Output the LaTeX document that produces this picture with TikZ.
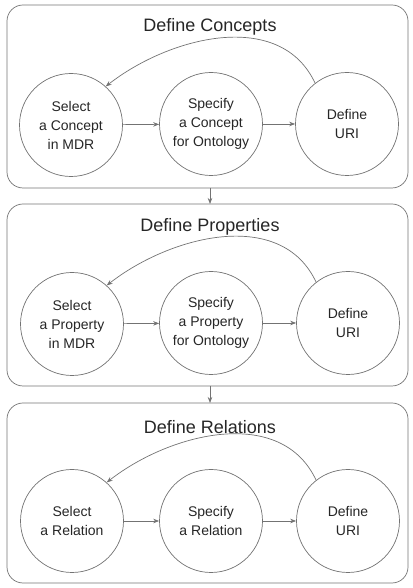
\documentclass[tikz,border=0pt]{standalone}
\usepackage{fontspec}
\setmainfont{Liberation Sans}
\usetikzlibrary{arrows.meta}
\begin{document}
\begin{tikzpicture}[x=1pt,y=1pt,
  line/.style={draw=black!55,line width=0.7pt},
  panel/.style={line,rounded corners=16pt},
  title/.style={font=\fontsize{18}{21}\selectfont,text=black!85},
  stage/.style={line,circle,minimum size=103pt,inner sep=0pt,align=center,
    font=\fontsize{14}{19}\selectfont,text=black!85},
  arr/.style={line,-{Stealth[length=6pt,width=4.5pt]}},
  back/.style={arr,out=115,in=38}]
\useasboundingbox (0,0) rectangle (412,588);
% panels
\node[panel,minimum width=401pt,minimum height=183pt,inner sep=0pt] (p1) at (207.5,491.5) {};
\node[panel,minimum width=401pt,minimum height=182pt,inner sep=0pt] (p2) at (207.5,293) {};
\node[panel,minimum width=401pt,minimum height=180pt,inner sep=0pt] (p3) at (207.5,95) {};
\node[title] (t1) at (210,561) {Define Concepts};
\node[title] (t2) at (210,361) {Define Properties};
\node[title] (t3) at (210,161) {Define Relations};
% panel 1
\node[stage] (a1) at (71,463) {Select\\a Concept\\in MDR};
\node[stage] (b1) at (211,464) {Specify\\a Concept\\for Ontology};
\node[stage] (c1) at (347,464) {Define\\URI};
% panel 2
\node[stage] (a2) at (72,264) {Select\\a Property\\in MDR};
\node[stage] (b2) at (211,265) {Specify\\a Property\\for Ontology};
\node[stage] (c2) at (348,265) {Define\\URI};
% panel 3
\node[stage] (a3) at (72,67) {Select\\a Relation};
\node[stage] (b3) at (211,67) {Specify\\a Relation};
\node[stage] (c3) at (348,67) {Define\\URI};
% arrows
\foreach \i in {1,2,3}{
  \draw[arr] (a\i) -- (b\i);
  \draw[arr] (b\i) -- (c\i);
  \draw[back] (c\i.128) to (a\i.48);
}
\coordinate (d1) at (210,400);
\coordinate (e1) at (210,384);
\coordinate (d2) at (210,202);
\coordinate (e2) at (210,185);
\draw[arr] (d1) -- (e1);
\draw[arr] (d2) -- (e2);
\end{tikzpicture}
\end{document}
